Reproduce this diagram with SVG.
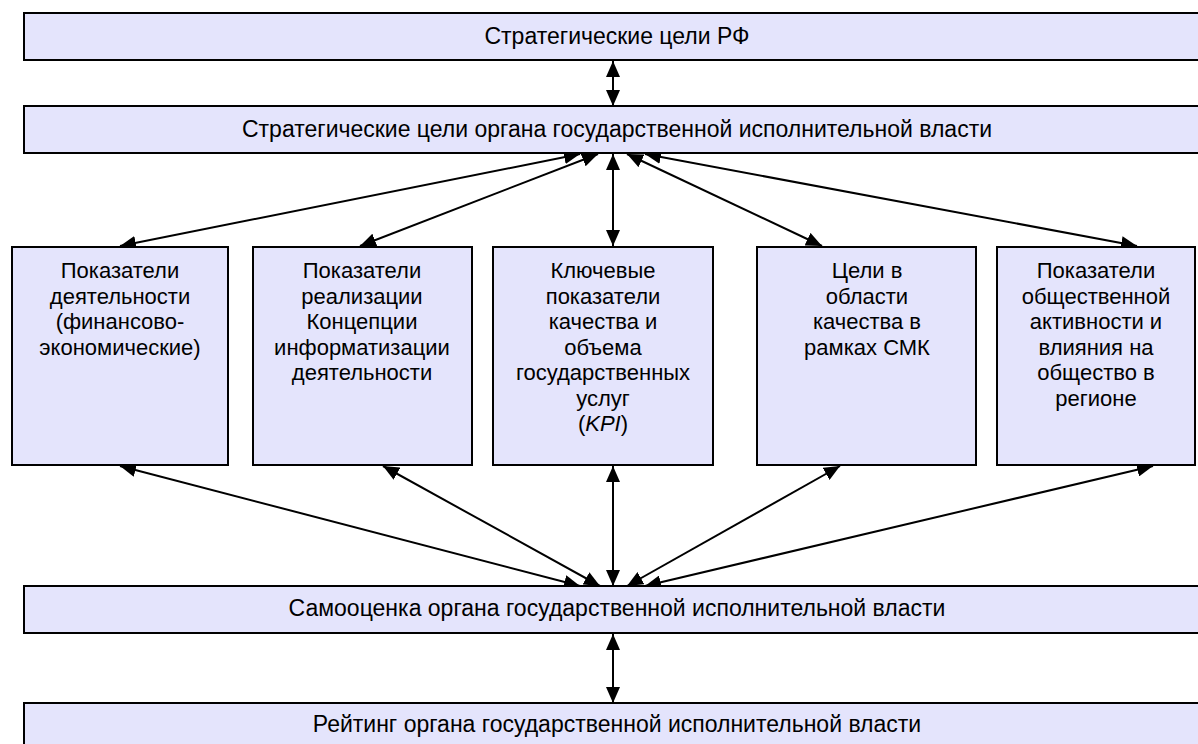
<svg xmlns="http://www.w3.org/2000/svg" width="1198" height="744" viewBox="0 0 1198 744">
<style>
.box{fill:#E4E4FC;stroke:#000;stroke-width:2}
.t{font-family:"Liberation Sans",Arial,sans-serif;font-size:22px;fill:#000;text-anchor:middle}
.b{font-size:23px}
.c{stroke:#000;stroke-width:2;fill:none;marker-start:url(#a);marker-end:url(#a)}
</style>
<defs>
<marker id="a" viewBox="0 0 16 14" refX="16" refY="7" markerWidth="16" markerHeight="14" markerUnits="userSpaceOnUse" orient="auto-start-reverse">
<path d="M0,0 L16,7 L0,14 Z" fill="#000"/>
</marker>
</defs>
<rect width="1198" height="744" fill="#fff"/>
<g id="connectors">
<line class="c" x1="613" y1="61" x2="613" y2="106"/>
<line class="c" x1="580" y1="154" x2="120" y2="246"/>
<line class="c" x1="598" y1="154" x2="360" y2="246"/>
<line class="c" x1="613" y1="154" x2="613" y2="246"/>
<line class="c" x1="627" y1="154" x2="822" y2="246"/>
<line class="c" x1="645" y1="154" x2="1137" y2="246"/>
<line class="c" x1="120" y1="466" x2="580" y2="586"/>
<line class="c" x1="383" y1="466" x2="600" y2="586"/>
<line class="c" x1="613" y1="466" x2="613" y2="586"/>
<line class="c" x1="840" y1="466" x2="627" y2="586"/>
<line class="c" x1="1153" y1="466" x2="645" y2="586"/>
<line class="c" x1="613" y1="634" x2="613" y2="703"/>
</g>
<g id="n1"><rect class="box" x="24" y="13" width="1190" height="47"/><text class="t b" x="617" y="44">Стратегические цели РФ</text></g>
<g id="n2"><rect class="box" x="24" y="106" width="1190" height="47"/><text class="t b" x="617" y="137">Стратегические цели органа государственной исполнительной власти</text></g>
<g id="n3"><rect class="box" x="12" y="247" width="216" height="218"/>
<text class="t" x="120" y="278"><tspan x="120">Показатели</tspan><tspan x="120" dy="25.5">деятельности</tspan><tspan x="120" dy="25.5">(финансово-</tspan><tspan x="120" dy="25.5">экономические)</tspan></text></g>
<g id="n4"><rect class="box" x="253" y="247" width="219" height="218"/>
<text class="t" x="362" y="278"><tspan x="362">Показатели</tspan><tspan x="362" dy="25.5">реализации</tspan><tspan x="362" dy="25.5">Концепции</tspan><tspan x="362" dy="25.5">информатизации</tspan><tspan x="362" dy="25.5">деятельности</tspan></text></g>
<g id="n5"><rect class="box" x="493" y="247" width="220" height="218"/>
<text class="t" x="603" y="278"><tspan x="603">Ключевые</tspan><tspan x="603" dy="25.5">показатели</tspan><tspan x="603" dy="25.5">качества и</tspan><tspan x="603" dy="25.5">объема</tspan><tspan x="603" dy="25.5">государственных</tspan><tspan x="603" dy="25.5">услуг</tspan><tspan x="603" dy="25.5">(<tspan font-style="italic">KPI</tspan>)</tspan></text></g>
<g id="n6"><rect class="box" x="757" y="247" width="219" height="218"/>
<text class="t" x="867" y="278"><tspan x="867">Цели в</tspan><tspan x="867" dy="25.5">области</tspan><tspan x="867" dy="25.5">качества в</tspan><tspan x="867" dy="25.5">рамках СМК</tspan></text></g>
<g id="n7"><rect class="box" x="997" y="247" width="198" height="218"/>
<text class="t" x="1096" y="278"><tspan x="1096">Показатели</tspan><tspan x="1096" dy="25.5">общественной</tspan><tspan x="1096" dy="25.5">активности и</tspan><tspan x="1096" dy="25.5">влияния на</tspan><tspan x="1096" dy="25.5">общество в</tspan><tspan x="1096" dy="25.5">регионе</tspan></text></g>
<g id="n8"><rect class="box" x="24" y="586" width="1190" height="47"/><text class="t b" x="617" y="616">Самооценка органа государственной исполнительной власти</text></g>
<g id="n9"><rect class="box" x="24" y="703" width="1190" height="60"/><text class="t b" x="617" y="732">Рейтинг органа государственной исполнительной власти</text></g>
</svg>
